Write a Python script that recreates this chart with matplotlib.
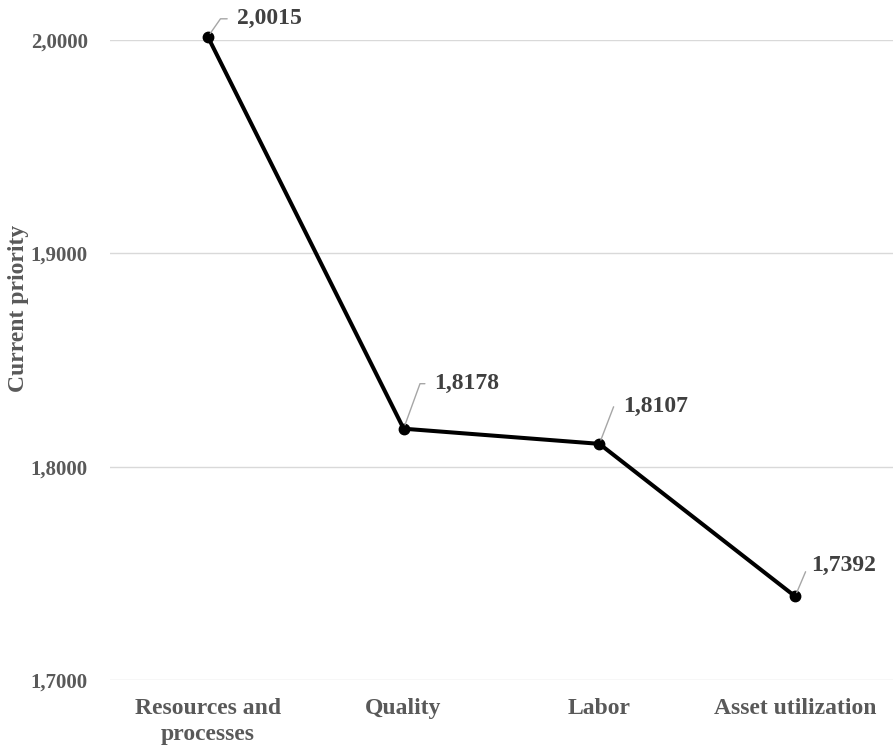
import numpy as np
import matplotlib
matplotlib.use('Agg')
import matplotlib.pyplot as plt

# data
categories = ['Resources and\nprocesses', 'Quality', 'Labor', 'Asset utilization']
priority = [2.0015, 1.8178, 1.8107, 1.7392]
value_labels = ['2,0015', '1,8178', '1,8107', '1,7392']
yticks = [1.7, 1.8, 1.9, 2.0]
ytick_labels = ['1,7000', '1,8000', '1,9000', '2,0000']

plt.rcParams['font.family'] = ['Liberation Serif', 'DejaVu Serif']
plt.rcParams['font.weight'] = 'bold'

fig = plt.figure(figsize=(8.93, 7.46), dpi=100)
ax = fig.add_axes([110/893, 1-680/746, 1-110/893, (680-40)/746])

x = np.arange(len(categories))
ax.plot(x, priority, color='black', lw=2.9, marker='o', markersize=7.5, clip_on=False, zorder=3)

# label offsets in pixels (text left-middle relative to point) and leader angle
offsets = [(29, 18), (31, 45), (24, 37), (16, 31)]
angles = [55, 70, 69, 67]
for xi, yi, lab, off, ang in zip(x, priority, value_labels, offsets, angles):
    ax.annotate(lab, (xi, yi), xytext=off, textcoords='offset pixels',
                ha='left', va='center', fontsize=17, fontweight='bold', color='#404040',
                annotation_clip=False,
                arrowprops=dict(arrowstyle='-', color='#a6a6a6', lw=1,
                                shrinkA=5, shrinkB=3, relpos=(0, 0.5),
                                connectionstyle='angle,angleA=0,angleB=%d,rad=0' % ang))

ax.set_xlim(-0.5, 3.5)
ax.set_ylim(1.7, 2.0)
ax.set_yticks(yticks)
ax.set_yticklabels(ytick_labels)
ax.set_xticks(x)
ax.set_xticklabels(categories, fontsize=17, color='#595959', linespacing=1.3)
ax.tick_params(axis='y', length=0, pad=16, labelsize=15, labelcolor='#595959')
ax.tick_params(axis='x', length=0, pad=13)
ax.grid(axis='y', color='#d9d9d9', lw=1)
ax.set_axisbelow(True)
for s in ax.spines.values():
    s.set_visible(False)

fig.text(19/893, 1-308/746, 'Current priority', rotation=90, ha='center', va='center',
         fontsize=17, fontweight='bold', color='#595959')

fig.savefig('out.png', dpi=100)
